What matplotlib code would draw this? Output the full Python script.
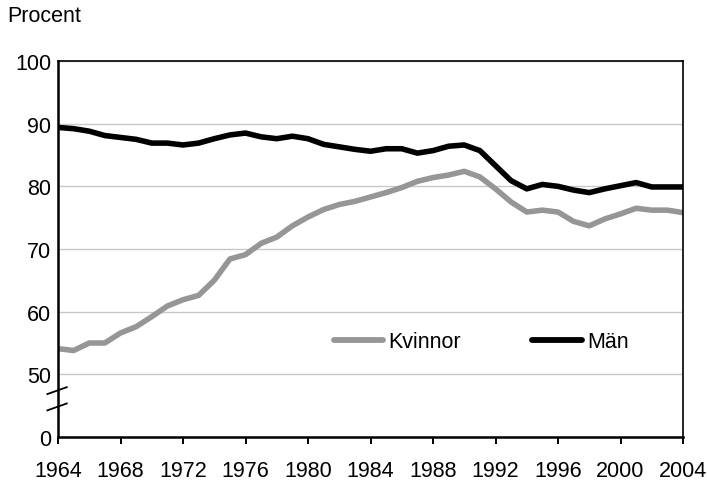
#! /usr/bin/env python3

import matplotlib
matplotlib.use("Agg")
import matplotlib.pyplot as plt
import matplotlib.transforms as mtransforms
import numpy as np

plt.rcParams['font.family'] = ['Liberation Sans', 'DejaVu Sans']

FS = 15.5

# values (percent)
years = list(range(1964, 2005))
kvinnor = [54.1, 53.8, 55.0, 55.0, 56.6, 57.6, 59.2, 60.9, 61.9, 62.6,
           65.0, 68.4, 69.1, 70.9, 71.9, 73.7, 75.1, 76.3, 77.1, 77.6,
           78.3, 79.0, 79.8, 80.8, 81.4, 81.8, 82.4, 81.5, 79.6, 77.5,
           75.9, 76.2, 75.9, 74.4, 73.7, 74.8, 75.6, 76.5, 76.2, 76.2, 75.8]
man = [89.4, 89.2, 88.8, 88.1, 87.8, 87.5, 86.9, 86.9, 86.6, 86.9,
       87.6, 88.2, 88.5, 87.9, 87.6, 88.0, 87.6, 86.7, 86.3, 85.9,
       85.6, 86.0, 86.0, 85.3, 85.7, 86.4, 86.6, 85.7, 83.3, 80.9,
       79.6, 80.3, 80.0, 79.4, 79.0, 79.6, 80.1, 80.6, 79.9, 79.9, 79.9]

xticks = list(range(1964, 2005, 4))
yticks = [40, 50, 60, 70, 80, 90, 100]
ytick_labels = ["0", "50", "60", "70", "80", "90", "100"]  # axis is broken below 50

fig = plt.figure(figsize=(7.07, 4.81), dpi=100)
ax = fig.add_axes([58 / 707, 1 - 438 / 481, 625 / 707, 376 / 481])

ax.plot(years, kvinnor, color="#969696", lw=4.0, label="Kvinnor", solid_capstyle="butt")
ax.plot(years, man, color="black", lw=4.0, label="Män", solid_capstyle="butt")

ax.set_xlim(1964, 2004)
ax.set_ylim(40, 100)
ax.set_xticks(xticks)
ax.set_yticks(yticks, ytick_labels)
ax.tick_params(axis="y", length=0, pad=5, labelsize=FS)
ax.tick_params(axis="x", length=5, width=1.4, direction="out", pad=11.5, labelsize=FS)

ax.set_axisbelow(True)
ax.yaxis.grid(color="#c8c8c8", lw=1)

for side in ("left", "bottom"):
    ax.spines[side].set_linewidth(1.8)
for side in ("top", "right"):
    ax.spines[side].set_linewidth(1.2)

# axis break marks
trans = mtransforms.blended_transform_factory(ax.transAxes, ax.transData)
for yb in (47.4, 44.8):
    ax.plot([-0.017, 0.014], [yb - 0.55, yb + 0.55], color="black", lw=1.3,
            transform=trans, clip_on=False)

leg = ax.legend(loc="center", bbox_to_anchor=(0.677, 0.253), ncols=2, frameon=False,
                fontsize=FS, handlelength=2.3, handletextpad=0.25,
                columnspacing=3.3, borderpad=0)
for line in leg.get_lines():
    line.set_solid_capstyle("round")
    line.set_linewidth(4.2)

fig.text(7 / 707, 1 - 16 / 481, "Procent", fontsize=FS, va="center", ha="left")

plt.savefig("out.png", dpi=100)
